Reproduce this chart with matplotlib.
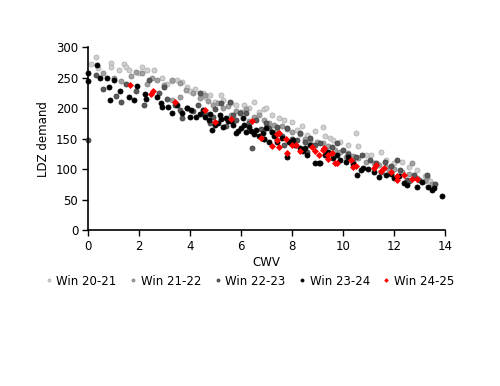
import matplotlib
matplotlib.use("Agg")
import matplotlib.pyplot as plt

# Win 20-21
x_2021 = [0.3, 0.1, 0.4, 0.9, 0.9, 1.4, 1.5, 1.6, 2.1, 2.3, 2.0, 1.2, 2.6, 2.9, 3.1, 3.5,
          3.7, 3.9, 4.2, 4.5, 4.6, 4.8, 5.0, 5.3, 5.6, 5.8, 6.1, 6.3, 6.7, 6.9, 7.2, 7.5,
          7.7, 8.0, 8.2, 8.4, 8.6, 8.9, 9.2, 9.3, 9.5, 9.6, 9.9, 10.2, 10.5, 10.6, 10.9,
          11.1, 11.5, 11.7, 12.0, 12.3, 12.6, 12.9, 13.2, 13.4, 5.2, 6.5, 7.0, 3.3, 4.0]
y_2021 = [284, 272, 265, 274, 268, 273, 268, 263, 268, 262, 258, 262, 262, 250, 240, 246,
          242, 235, 232, 224, 218, 221, 210, 214, 208, 205, 205, 200, 193, 198, 189, 184,
          180, 177, 164, 170, 156, 162, 169, 154, 151, 148, 145, 139, 159, 138, 123,
          123, 128, 115, 110, 112, 104, 98, 88, 80, 222, 210, 200, 245, 228]

# Win 21-22
x_2122 = [0.6, 1.0, 1.3, 1.7, 1.9, 2.1, 2.5, 2.7, 3.0, 3.3, 3.6, 3.85, 4.1, 4.4, 3.6, 3.3,
          4.7, 4.9, 5.1, 5.3, 5.5, 5.8, 6.0, 6.2, 6.5, 6.7, 6.9, 7.1, 7.3, 7.6, 7.8, 8.0,
          8.3, 8.5, 8.7, 9.0, 9.2, 9.4, 9.7, 9.9, 10.2, 10.4, 10.6, 10.9, 11.2, 11.4, 11.7,
          12.0, 12.3, 12.6, 12.9, 13.2, 13.5, 5.6, 6.3, 7.4, 8.8, 10.1, 11.8, 4.6, 2.3,
          12.7, 13.3]
y_2122 = [258, 250, 245, 252, 259, 257, 249, 246, 238, 246, 241, 230, 224, 216, 218, 213,
          212, 205, 208, 200, 203, 196, 193, 198, 185, 188, 180, 176, 172, 170, 165, 160,
          158, 150, 148, 145, 142, 138, 132, 128, 126, 122, 118, 112, 110, 106, 104,
          100, 95, 92, 86, 80, 75, 188, 178, 162, 140, 120, 98, 222, 240,
          110, 87]

# Win 22-23
x_2223 = [0.0, 0.6, 1.1, 1.5, 1.9, 2.4, 2.8, 3.1, 3.4, 3.6, 3.7, 3.9, 4.1, 4.4, 4.6, 4.9,
          5.2, 5.55, 5.8, 5.95, 6.2, 6.45, 6.6, 6.8, 7.0, 7.2, 7.4, 7.6, 7.8, 8.0, 8.3,
          8.5, 8.7, 8.9, 9.1, 9.3, 9.55, 9.75, 10.0, 10.2, 10.5, 10.75, 11.05, 11.3, 11.65,
          11.9, 12.1, 12.25, 12.5, 12.8, 13.0, 13.3, 13.6, 1.3, 2.2, 4.8, 5.4, 6.9, 7.7,
          8.6, 9.4, 10.4, 11.5, 12.6, 3.0, 0.3, 4.3, 5.0, 5.7, 6.3, 7.1, 8.2]
y_2223 = [148, 232, 220, 240, 228, 246, 224, 215, 205, 197, 183, 200, 195, 224, 190, 185,
          208, 210, 180, 192, 192, 134, 180, 165, 175, 160, 169, 155, 167, 150, 159,
          145, 151, 140, 143, 130, 136, 143, 131, 125, 120, 123, 115, 110, 111,
          105, 115, 98, 82, 90, 82, 90, 75, 210, 205, 175, 170, 150, 140,
          128, 125, 112, 95, 80, 235, 255, 205, 198, 188, 175, 168, 148]

# Win 23-24
x_2324 = [0.0, 0.0, 0.35, 0.47, 0.75, 1.0, 0.83, 0.86, 1.26, 1.6, 1.8, 1.93, 2.24, 2.28,
          2.7, 2.87, 2.9, 3.15, 3.3, 3.5, 3.7, 4.05, 4.25, 4.5, 4.76, 4.85, 5.08, 4.6, 5.16,
          5.4, 5.3, 5.7, 5.8, 6.0, 6.06, 6.3, 6.6, 6.85, 7.0, 7.1, 7.6, 7.8, 8.03, 8.3, 8.6,
          8.7, 8.9, 9.05, 9.3, 9.76, 9.9, 10.1, 9.1, 10.2, 10.55, 10.7, 10.8, 11.4, 11.7,
          12.0, 12.4, 12.5, 12.9, 13.35, 13.5, 13.55, 13.9, 5.5, 6.2, 6.9, 7.3, 8.1, 8.45,
          9.6, 11.0, 11.2, 12.2, 13.1, 4.0, 3.9, 4.4, 5.0, 5.9, 6.5, 7.4, 10.4, 11.9,
          4.8, 5.2, 5.6, 6.1, 6.4, 6.7, 7.2, 7.9, 8.5, 9.4]
y_2324 = [257, 244, 270, 249, 249, 246, 234, 213, 228, 218, 213, 236, 223, 215,
          218, 208, 202, 202, 192, 205, 192, 197, 186, 197, 180, 164, 175, 185, 189,
          184, 169, 172, 159, 167, 184, 169, 164, 159, 167, 144, 151, 120, 148, 134, 123,
          139, 110, 110, 123, 123, 115, 111, 110, 120, 90, 98, 102, 87, 90,
          85, 77, 74, 71, 71, 66, 69, 56, 178, 160, 150, 155, 140, 130,
          118, 100, 95, 88, 78, 185, 200, 190, 172, 162, 158, 145, 108, 92,
          190, 182, 178, 173, 163, 155, 160, 145, 135, 128]

# Win 24-25
x_2425 = [1.65, 2.56, 2.48, 3.4, 4.6, 5.0, 5.6, 6.45, 6.8, 7.2, 7.4, 7.5, 7.4, 7.75, 7.5,
          7.8, 8.0, 8.15, 8.3, 8.8, 8.9, 9.05, 9.2, 9.25, 9.4, 9.55, 9.4, 9.7, 9.75, 10.3,
          10.5, 10.4, 11.2, 11.3, 11.5, 11.6, 11.9, 12.1, 12.1, 12.4, 12.7, 12.9]
y_2425 = [238, 228, 223, 210, 197, 177, 182, 178, 151, 138, 157, 159, 148, 149, 136,
          126, 139, 139, 130, 136, 130, 123, 131, 134, 123, 126, 116, 110, 110, 115,
          105, 103, 102, 107, 97, 102, 95, 89, 82, 90, 84, 84]

series = [
    ("Win 20-21", x_2021, y_2021, "o", "#d0d0d0", "#b4b4b4"),
    ("Win 21-22", x_2122, y_2122, "o", "#a0a0a0", "#888888"),
    ("Win 22-23", x_2223, y_2223, "o", "#5a5a5a", "#444444"),
    ("Win 23-24", x_2324, y_2324, "o", "#000000", "#000000"),
    ("Win 24-25", x_2425, y_2425, "D", "#ff0000", "#ff0000"),
]

plt.rcParams['font.family'] = ['DejaVu Sans']
fig = plt.figure(figsize=(5.0, 3.86), dpi=100)
ax = fig.add_axes([0.176, 0.404, 0.714, 0.474])

for name, xs, ys, mk, fc, ec in series:
    ms = 3.6 if mk == "o" else 3.0
    ax.plot(xs, ys, linestyle="none", marker=mk, markersize=ms,
            markerfacecolor=fc, markeredgecolor=ec, markeredgewidth=0.6,
            label=name, clip_on=False)

ax.set_xlim(0, 14)
ax.set_ylim(0, 300)
ax.set_xticks(range(0, 15, 2))
ax.set_yticks(range(0, 301, 50))
for side in ["top", "right"]:
    ax.spines[side].set_visible(False)
for side in ["left", "bottom"]:
    ax.spines[side].set_linewidth(1.2)
ax.tick_params(direction="out", length=4, width=1, labelsize=8.5, pad=3)
ax.set_xlabel("CWV", fontsize=8.5, labelpad=2)
ax.set_ylabel("LDZ demand", fontsize=8.5, labelpad=4)

fig.legend(loc="center", bbox_to_anchor=(0.5, 0.272), ncol=5, frameon=False,
           fontsize=8.5, handlelength=0.5, handletextpad=0.4, columnspacing=1.15,
           markerscale=0.6)

fig.savefig("out.png", dpi=100)
